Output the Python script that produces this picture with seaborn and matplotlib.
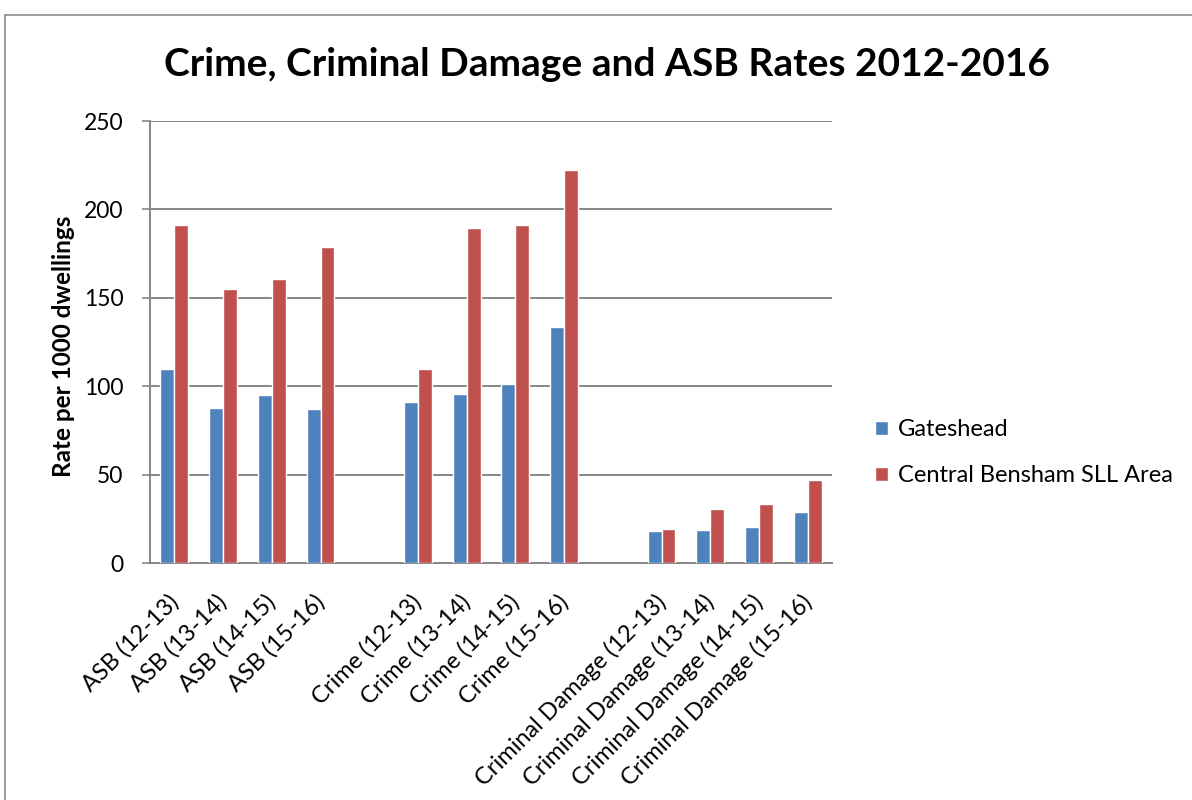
import matplotlib
matplotlib.use("Agg")
import matplotlib.pyplot as plt
from matplotlib.lines import Line2D
from matplotlib.transforms import ScaledTranslation
import pandas as pd
import seaborn as sns

# Category order along the x axis (blank entries leave gaps between groups)
categories = [
    "ASB (12-13)", "ASB (13-14)", "ASB (14-15)", "ASB (15-16)", "",
    "Crime (12-13)", "Crime (13-14)", "Crime (14-15)", "Crime (15-16)", " ",
    "Criminal Damage (12-13)", "Criminal Damage (13-14)",
    "Criminal Damage (14-15)", "Criminal Damage (15-16)",
]
data_categories = [c for c in categories if c.strip()]

gateshead = [110, 87.6, 95, 87, 91, 95.5, 101.5, 133.6, 18.1, 18.5, 20.3, 28.8]
bensham = [191, 154.7, 160.7, 179, 110, 189.7, 191, 222.5, 19, 30.3, 33.5, 46.9]

series_names = ["Gateshead", "Central Bensham SLL Area"]
series_colors = ["#4F81BD", "#C0504D"]
y_ticks = [0, 50, 100, 150, 200, 250]

df = pd.DataFrame({
    "category": data_categories * 2,
    "series": [series_names[0]] * len(gateshead) + [series_names[1]] * len(bensham),
    "rate": gateshead + bensham,
})

sns.set_theme(style="white")
plt.rcParams["font.family"] = ["Lato", "DejaVu Sans"]

W, H = 1192, 800
fig = plt.figure(figsize=(W / 100, H / 100), dpi=100)
ax = fig.add_axes([150 / W, 1 - 563 / H, (832 - 150) / W, (563 - 121) / H])

sns.barplot(
    data=df, x="category", y="rate", hue="series", order=categories,
    hue_order=series_names, palette=series_colors, width=0.57,
    saturation=1, errorbar=None, ax=ax, zorder=3,
)

grid_color = "#868686"
ax.set_ylim(0, 250)
ax.set_yticks(y_ticks)
ax.set_xlim(-0.5, len(categories) - 0.5)
for t in y_ticks[1:]:
    ax.axhline(t, color=grid_color, lw=1.4, zorder=1)

for side in ["top", "right"]:
    ax.spines[side].set_visible(False)
for side in ["left", "bottom"]:
    ax.spines[side].set_color(grid_color)
    ax.spines[side].set_linewidth(1.4)

ax.tick_params(axis="y", which="major", left=True, length=6, width=1.2,
               color=grid_color, pad=13, labelsize=16.5, labelcolor="black")
ax.tick_params(axis="x", bottom=False, pad=14, labelsize=17, labelcolor="black")
ax.set_xticks(range(len(categories)))
ax.set_xticklabels(categories, rotation=45, ha="right", va="top",
                   rotation_mode="anchor")
# nudge the slanted labels so their ends sit under the bar pairs
shift = ScaledTranslation(-7 / 100, 0, fig.dpi_scale_trans)
for lbl in ax.get_xticklabels():
    lbl.set_transform(lbl.get_transform() + shift)

ax.set_xlabel("")
ax.set_ylabel("Rate per 1000 dwellings", fontsize=17.5, fontweight="bold",
              color="black")
ax.yaxis.set_label_coords((63 - 150) / (832 - 150), 0.49)
ax.yaxis.label.set_va("center")

fig.text(607 / W, 1 - 76 / H, "Crime, Criminal Damage and ASB Rates 2012-2016",
         ha="center", va="baseline", fontsize=28, fontweight="bold",
         color="black")

leg = ax.legend(
    loc="upper left", bbox_to_anchor=(875 / W, 1 - 419 / H),
    bbox_transform=fig.transFigure, frameon=False, fontsize=17,
    handlelength=0.55, handleheight=0.55, handletextpad=0.42, labelspacing=1.06,
    borderaxespad=0, borderpad=0,
)
for txt in leg.get_texts():
    txt.set_color("black")

# Outer chart frame
frame_color = "#8c8c8c"
fig.add_artist(Line2D([5 / W, 5 / W], [0, 1 - 15 / H], transform=fig.transFigure,
                      color=frame_color, lw=1.2))
fig.add_artist(Line2D([5 / W, 1], [1 - 15 / H, 1 - 15 / H], transform=fig.transFigure,
                      color=frame_color, lw=1.2))

fig.savefig("out.png", dpi=100, facecolor="white")
